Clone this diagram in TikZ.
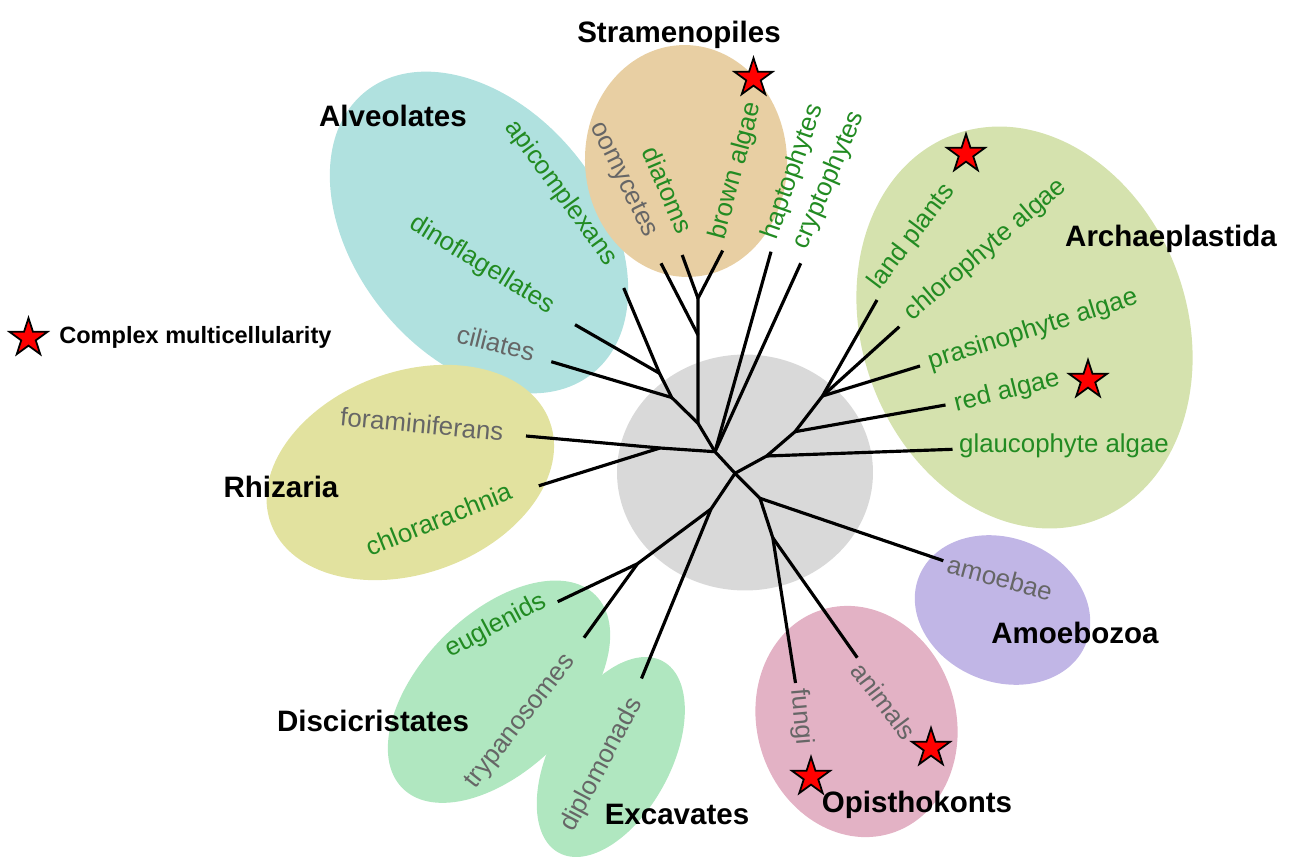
\documentclass[tikz,border=0pt]{standalone}
\usepackage{fontspec}
\setmainfont{Liberation Sans}
\usetikzlibrary{shapes.geometric}
\definecolor{cteal}{HTML}{B0E1DF}
\definecolor{ctan}{HTML}{E8CFA3}
\definecolor{cgreen}{HTML}{D5E2AE}
\definecolor{cyellow}{HTML}{E2E29F}
\definecolor{cgray}{HTML}{D9D9D9}
\definecolor{cpurple}{HTML}{C1B6E6}
\definecolor{cpink}{HTML}{E3B2C5}
\definecolor{cmint}{HTML}{B0E7C0}
\definecolor{txtgreen}{HTML}{228B22}
\definecolor{txtgray}{HTML}{666666}
\begin{document}
\begin{tikzpicture}[x=0.02cm,y=-0.02cm,
  leafg/.style={text=txtgreen,font=\fontsize{14.7}{17}\selectfont,inner sep=0pt},
  leafy/.style={text=txtgray,font=\fontsize{14.7}{17}\selectfont,inner sep=0pt},
  grouptitle/.style={font=\fontsize{16.8}{20}\selectfont\bfseries,inner sep=0pt,anchor=base},
  branch/.style={line width=1.8pt,line join=round},
  cstar/.style={star,star points=5,star point ratio=2.618,minimum size=0.8cm,inner sep=0pt,fill=red,draw=black,line width=1pt}]
\useasboundingbox (0,0) rectangle (1291,858);
% group areas
\fill[cteal,rotate around={-51:(479,232.5)}] (479,232.5) ellipse [x radius=3.62cm,y radius=2.48cm];
\fill[ctan,rotate around={3:(686,161)}] (686,161) ellipse [x radius=2.02cm,y radius=2.32cm];
\fill[cgreen,rotate around={20:(1024.5,327.5)}] (1024.5,327.5) ellipse [x radius=3.25cm,y radius=4.11cm];
\fill[cyellow,rotate around={20:(410.3,472.5)}] (410.3,472.5) ellipse [x radius=2.97cm,y radius=2.02cm];
\fill[cpurple,rotate around={-22:(1002.5,610)}] (1002.5,610) ellipse [x radius=1.80cm,y radius=1.44cm];
\fill[cpink,rotate around={17:(856.5,721.5)}] (856.5,721.5) ellipse [x radius=1.99cm,y radius=2.34cm];
\fill[cmint,rotate around={45:(499,691.7)}] (499,691.7) ellipse [x radius=2.73cm,y radius=1.56cm];
\fill[cmint,rotate around={61.5:(610.8,757)}] (610.8,757) ellipse [x radius=2.18cm,y radius=1.2cm];
\fill[cgray] (745,472.5) ellipse [x radius=2.56cm,y radius=2.36cm];
% tree coordinates
\coordinate (A) at (715,451.7);
\coordinate (B) at (735,473.3);
\coordinate (al0) at (698,423.3);
\coordinate (al1) at (671.7,397.5);
\coordinate (al2) at (659.5,373.3);
\coordinate (apiT) at (623.7,288);
\coordinate (dinoT) at (575,324.7);
\coordinate (cilT) at (551.3,361.7);
\coordinate (st1) at (698,335);
\coordinate (st2) at (698,298.3);
\coordinate (oomT) at (661,263.3);
\coordinate (diaT) at (682.2,255);
\coordinate (brownT) at (722.7,250.5);
\coordinate (hapT) at (771,251.7);
\coordinate (cryT) at (800.7,263.3);
\coordinate (rh) at (660,448);
\coordinate (foramT) at (526,436);
\coordinate (chlorarT) at (538.8,485.8);
\coordinate (g1) at (766.7,456);
\coordinate (g2) at (795,431.7);
\coordinate (g3) at (822.5,396);
\coordinate (landT) at (877,300);
\coordinate (chloT) at (899.3,326.7);
\coordinate (prasT) at (920,366);
\coordinate (redT) at (945.5,405);
\coordinate (glaT) at (952.5,449.3);
\coordinate (e1) at (711,509);
\coordinate (e2) at (637.5,563.7);
\coordinate (eugT) at (557.7,601.7);
\coordinate (tryT) at (584,637.7);
\coordinate (dipT) at (641.5,678.5);
\coordinate (o1) at (760,498.3);
\coordinate (o2) at (772.8,537.8);
\coordinate (amoT) at (943.3,560.7);
\coordinate (funT) at (795.5,683);
\coordinate (aniT) at (857.3,657.7);
% branches
\draw[branch] (A) -- (al0) -- (al1) -- (al2) -- (apiT);
\draw[branch] (al2) -- (dinoT);
\draw[branch] (al1) -- (cilT);
\draw[branch] (al0) -- (st1) -- (st2) -- (brownT);
\draw[branch] (st1) -- (oomT);
\draw[branch] (st2) -- (diaT);
\draw[branch] (A) -- (hapT);
\draw[branch] (A) -- (cryT);
\draw[branch] (A) -- (rh) -- (foramT);
\draw[branch] (rh) -- (chlorarT);
\draw[branch] (A) -- (B);
\draw[branch] (B) -- (g1) -- (g2) -- (g3) -- (landT);
\draw[branch] (g1) -- (glaT);
\draw[branch] (g2) -- (redT);
\draw[branch] (g3) -- (chloT);
\draw[branch] (g3) -- (prasT);
\draw[branch] (B) -- (e1) -- (e2) -- (eugT);
\draw[branch] (e2) -- (tryT);
\draw[branch] (e1) -- (dipT);
\draw[branch] (B) -- (o1) -- (amoT);
\draw[branch] (o1) -- (o2) -- (funT);
\draw[branch] (o2) -- (aniT);
% leaf labels
\node[leafg,rotate=-54] (apiL) at (561,193) {apicomplexans};
\node[leafg,rotate=-31.5] (dinoL) at (482,265) {dinoflagellates};
\node[leafy,rotate=-14] (cilL) at (496,343) {ciliates};
\node[leafy,rotate=-64] (oomL) at (623,180) {oomycetes};
\node[leafg,rotate=-67] (diaL) at (668,190) {diatoms};
\node[leafg,rotate=75] (brownL) at (736,171) {brown algae};
\node[leafg,rotate=71] (hapL) at (793,172) {haptophytes};
\node[leafg,rotate=67] (cryL) at (829,180) {cryptophytes};
\node[leafg,rotate=53] (landL) at (912,237) {land plants};
\node[leafg,rotate=40.5] (chloL) at (986,250) {chlorophyte algae};
\node[leafg,rotate=17.5] (prasL) at (1033,330) {prasinophyte algae};
\node[leafg,rotate=14] (redL) at (1007,392) {red algae};
\node[leafg] (glaL) at (1064,446) {glaucophyte algae};
\node[leafy,rotate=-5.5] (foramL) at (422,424) {foraminiferans};
\node[leafg,rotate=22] (chlorarL) at (439,519) {chlorarachnia};
\node[leafg,rotate=28] (eugL) at (496,626) {euglenids};
\node[leafy,rotate=52] (tryL) at (521,722) {trypanosomes};
\node[leafy,rotate=62] (dipL) at (602,765) {diplomonads};
\node[leafy,rotate=-15] (amoL) at (1000,578) {amoebae};
\node[leafy,rotate=-85] (funL) at (801,717) {fungi};
\node[leafy,rotate=-53] (aniL) at (884,701) {animals};
% group titles
\node[grouptitle] (tStr) at (679,42.5) {Stramenopiles};
\node[grouptitle] (tAlv) at (393,127) {Alveolates};
\node[grouptitle] (tArc) at (1171,246.5) {Archaeplastida};
\node[grouptitle] (tRhi) at (281,497) {Rhizaria};
\node[grouptitle] (tAmo) at (1075,643) {Amoebozoa};
\node[grouptitle] (tDis) at (373,731) {Discicristates};
\node[grouptitle] (tExc) at (677,824) {Excavates};
\node[grouptitle] (tOpi) at (917,812.5) {Opisthokonts};
% stars
\node[cstar] (s1) at (753.5,78) {};
\node[cstar] (s2) at (966,154) {};
\node[cstar] (s3) at (1088,380) {};
\node[cstar] (s4) at (931,748) {};
\node[cstar] (s5) at (811,777) {};
\node[cstar] (s6) at (28.5,338) {};
\node[font=\fontsize{13.4}{16}\selectfont\bfseries,inner sep=0pt,anchor=base west] (legend) at (59,343) {Complex multicellularity};
\end{tikzpicture}
\end{document}
